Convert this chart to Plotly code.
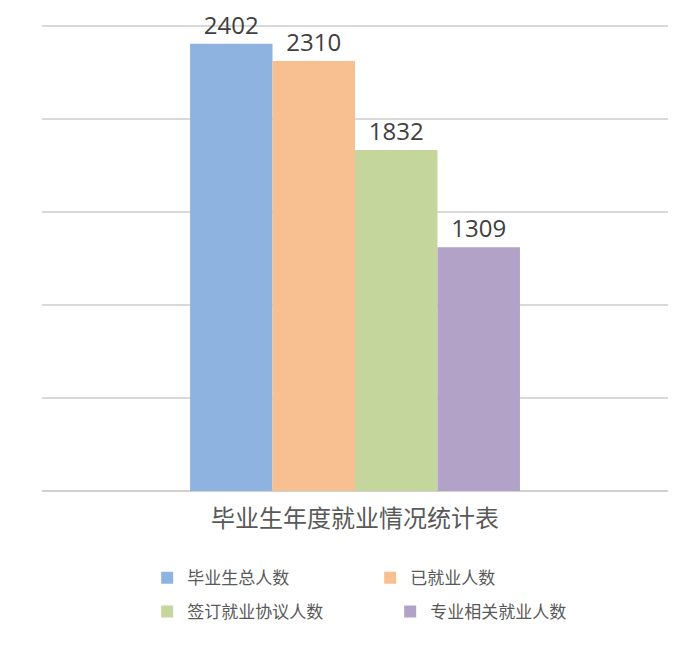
import plotly.graph_objects as go

category = ["毕业生年度就业情况统计表"]
series_names = ["毕业生总人数", "已就业人数", "签订就业协议人数", "专业相关就业人数"]
series_values = [2402, 2310, 1832, 1309]
colors = ["#8FB3E0", "#F8C090", "#C4D69C", "#B2A2C7"]
legend_ids = ["legend", "legend", "legend2", "legend2"]

fig = go.Figure()
for name, val, col, lg in zip(series_names, series_values, colors, legend_ids):
    fig.add_trace(go.Bar(
        x=category, y=[val], name=name,
        marker=dict(color=col, line=dict(width=0)),
        text=[str(val)], textposition="outside",
        textfont=dict(size=24, color="#404040", family="Open Sans, Noto Sans CJK SC"),
        cliponaxis=False, legend=lg,
    ))

fig.update_layout(
    width=686, height=647,
    margin=dict(l=34, r=26, t=12, b=164, autoexpand=False),
    paper_bgcolor="white", plot_bgcolor="white",
    barmode="group", bargap=0.473, bargroupgap=0,
    font=dict(family="Noto Sans CJK SC", color="#595959"),
    showlegend=True,
    legend=dict(orientation="h", x=0.168, xanchor="left", y=-0.185, yanchor="middle",
                entrywidth=178, entrywidthmode="pixels",
                font=dict(size=17, color="#595959"), bgcolor="rgba(0,0,0,0)"),
    legend2=dict(orientation="h", x=0.168, xanchor="left", y=-0.257, yanchor="middle",
                 entrywidth=198, entrywidthmode="pixels",
                 font=dict(size=17, color="#595959"), bgcolor="rgba(0,0,0,0)"),
)
fig.update_xaxes(showgrid=False, showline=False, ticks="", automargin=False,
                 ticklabelstandoff=11,
                 tickfont=dict(size=24, color="#595959"))
fig.update_yaxes(range=[0, 2530], tickvals=[0, 500, 1000, 1500, 2000, 2500],
                 showticklabels=False, ticks="", automargin=False,
                 gridcolor="#D9D9D9", gridwidth=1.5, zeroline=True,
                 zerolinecolor="#D0D0D0", zerolinewidth=2, showline=False)

fig.write_html("out.html")
